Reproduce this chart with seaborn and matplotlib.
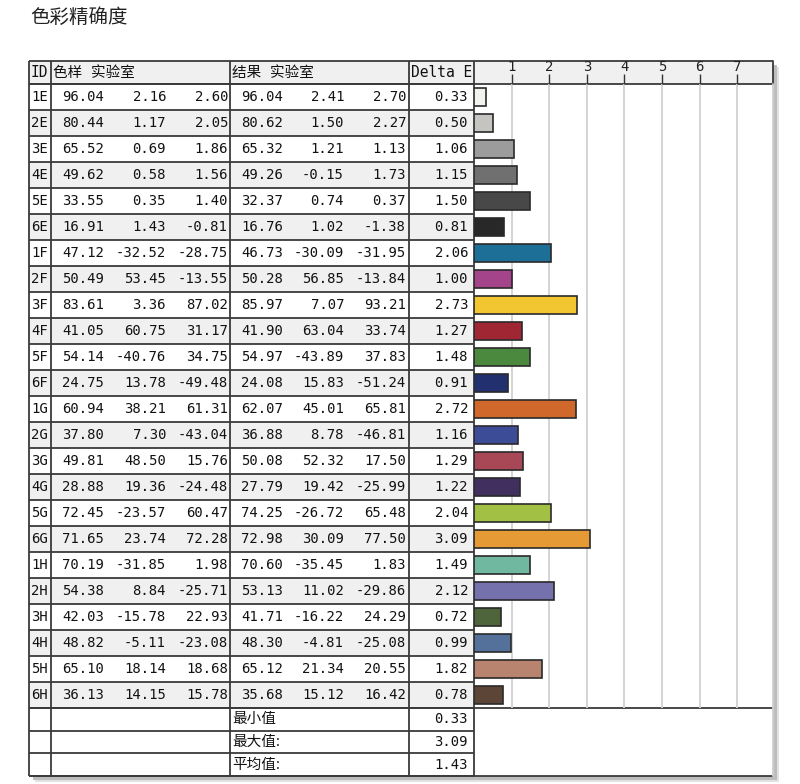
import matplotlib
matplotlib.use('Agg')
import matplotlib.pyplot as plt
import matplotlib.patches as mpatches
import seaborn as sns
import numpy as np

# 数据
ids = ['1E', '2E', '3E', '4E', '5E', '6E', '1F', '2F', '3F', '4F', '5F', '6F',
       '1G', '2G', '3G', '4G', '5G', '6G', '1H', '2H', '3H', '4H', '5H', '6H']
ref_L = [96.04, 80.44, 65.52, 49.62, 33.55, 16.91, 47.12, 50.49, 83.61, 41.05, 54.14, 24.75,
         60.94, 37.80, 49.81, 28.88, 72.45, 71.65, 70.19, 54.38, 42.03, 48.82, 65.10, 36.13]
ref_a = [2.16, 1.17, 0.69, 0.58, 0.35, 1.43, -32.52, 53.45, 3.36, 60.75, -40.76, 13.78,
         38.21, 7.30, 48.50, 19.36, -23.57, 23.74, -31.85, 8.84, -15.78, -5.11, 18.14, 14.15]
ref_b = [2.60, 2.05, 1.86, 1.56, 1.40, -0.81, -28.75, -13.55, 87.02, 31.17, 34.75, -49.48,
         61.31, -43.04, 15.76, -24.48, 60.47, 72.28, 1.98, -25.71, 22.93, -23.08, 18.68, 15.78]
res_L = [96.04, 80.62, 65.32, 49.26, 32.37, 16.76, 46.73, 50.28, 85.97, 41.90, 54.97, 24.08,
         62.07, 36.88, 50.08, 27.79, 74.25, 72.98, 70.60, 53.13, 41.71, 48.30, 65.12, 35.68]
res_a = [2.41, 1.50, 1.21, -0.15, 0.74, 1.02, -30.09, 56.85, 7.07, 63.04, -43.89, 15.83,
         45.01, 8.78, 52.32, 19.42, -26.72, 30.09, -35.45, 11.02, -16.22, -4.81, 21.34, 15.12]
res_b = [2.70, 2.27, 1.13, 1.73, 0.37, -1.38, -31.95, -13.84, 93.21, 33.74, 37.83, -51.24,
         65.81, -46.81, 17.50, -25.99, 65.48, 77.50, 1.83, -29.86, 24.29, -25.08, 20.55, 16.42]
delta_e = [0.33, 0.50, 1.06, 1.15, 1.50, 0.81, 2.06, 1.00, 2.73, 1.27, 1.48, 0.91,
           2.72, 1.16, 1.29, 1.22, 2.04, 3.09, 1.49, 2.12, 0.72, 0.99, 1.82, 0.78]
colors = ['#f4f2ec', '#c6c4c1', '#9c9c9c', '#707070', '#484848', '#282828',
          '#1e6f98', '#a4448a', '#f2c630', '#a02634', '#4b8a3e', '#23306f',
          '#d0682c', '#3d4c96', '#a84756', '#41305f', '#a2c044', '#e59a35',
          '#70b9a0', '#7571ad', '#4e643a', '#54719b', '#b8846f', '#5c4437']
summary_labels = ['最小值', '最大值:', '平均值:']
summary_values = [min(delta_e), max(delta_e), np.mean(delta_e)]

sns.set_theme(style='white')
plt.rcParams['font.family'] = ['DejaVu Sans Mono', 'Noto Sans CJK SC']

fig = plt.figure(figsize=(8, 7.84), dpi=100)
W, H = 800, 784
ax = fig.add_axes([0, 0, 1, 1])
ax.set_xlim(0, W)
ax.set_ylim(H, 0)
ax.axis('off')
ax.set_zorder(0)

# 布局 (像素)
x0, x_id, x_g1, x_g2, x_de, x1 = 29, 51, 230, 409, 474, 773
y_head, y_rows, row_h = 61, 84, 26
y_sum = y_rows + row_h * len(ids)
sum_h = 22.7
y_end = y_sum + sum_h * 3
line_c = '#3a3a3a'

# 标题
ax.text(30, 17, '色彩精确度', fontsize=14, va='center', ha='left', color='#222222',
        family=['Noto Sans CJK SC'])

# 阴影
ax.add_patch(mpatches.Rectangle((x0 + 6, y_head + 6), x1 - x0, y_end - y_head, color='#e2e2e2', lw=0))
ax.add_patch(mpatches.Rectangle((x0 + 4, y_head + 4), x1 - x0, y_end - y_head, color='#bdbdbd', lw=0))
ax.add_patch(mpatches.Rectangle((x0, y_head), x1 - x0, y_end - y_head, color='white', lw=0))

# 表头背景
ax.add_patch(mpatches.Rectangle((x0, y_head), x1 - x0, y_rows - y_head, color='#f0f0f0', lw=0))
# 隔行背景
for i in range(len(ids)):
    if i % 2 == 1:
        ax.add_patch(mpatches.Rectangle((x0, y_rows + i * row_h), x_de - x0, row_h, color='#f0f0f0', lw=0))

# 表头文字
hy = (y_head + y_rows) / 2
ax.text(x0 + 2, hy, 'ID', fontsize=10.5, va='center', color='#111')
ax.text(x_id + 2, hy, '色样 实验室', fontsize=10.5, va='center', color='#111')
ax.text(x_g1 + 2, hy, '结果 实验室', fontsize=10.5, va='center', color='#111')
ax.text(x_g2 + 2, hy, 'Delta E', fontsize=10.5, va='center', color='#111')

# 数据行
col_right = [104, 166, 228, 283, 344, 406, 468]
for i, sid in enumerate(ids):
    cy = y_rows + i * row_h + row_h / 2
    ax.text(x0 + 2, cy, sid, fontsize=10, va='center', ha='left', color='#111')
    vals = [ref_L[i], ref_a[i], ref_b[i], res_L[i], res_a[i], res_b[i], delta_e[i]]
    for xr, v in zip(col_right, vals):
        ax.text(xr, cy, f'{v:.2f}', fontsize=10, va='center', ha='right', color='#111')

# 汇总行
for k, (lab, val) in enumerate(zip(summary_labels, summary_values)):
    cy = y_sum + k * sum_h + sum_h / 2
    ax.text(x_g1 + 2, cy, lab, fontsize=10.5, va='center', ha='left', color='#111',
            family=['Noto Sans CJK SC'])
    ax.text(col_right[-1], cy, f'{val:.2f}', fontsize=10, va='center', ha='right', color='#111')

# 表格线
for i in range(len(ids) + 1):
    y = y_rows + i * row_h
    ax.plot([x0, x_de], [y, y], color=line_c, lw=1.3, solid_capstyle='butt')
for k in range(1, 4):
    y = y_sum + k * sum_h
    ax.plot([x0, x_de], [y, y], color=line_c, lw=1.3, solid_capstyle='butt')
for y in [y_head, y_rows, y_sum, y_end]:
    ax.plot([x0, x1], [y, y], color=line_c, lw=1.3, solid_capstyle='butt')
for x in [x0, x_id, x_g1, x_g2, x_de]:
    ax.plot([x, x], [y_head, y_end], color=line_c, lw=1.3, solid_capstyle='butt')
ax.plot([x1, x1], [y_head, y_rows], color=line_c, lw=1.3)
ax.plot([x1, x1], [y_rows, y_end], color='#cfcfcf', lw=1.3)

# 柱状图
bax = fig.add_axes([x_de / W, 1 - y_sum / H, (x1 - x_de) / W, (y_sum - y_rows) / H])
bax.set_zorder(1)
bax.patch.set_alpha(0)
sns.barplot(x=delta_e, y=ids, hue=ids, palette=colors, legend=False, orient='h', ax=bax,
            width=0.66, edgecolor='#2a2a2a', linewidth=1.2, saturation=1)
bax.set_xlim(0, 7.95)
bax.set_ylim(len(ids) - 0.5, -0.5)
bax.set_xticks(range(1, 8))
bax.set_xticklabels([str(t) for t in range(1, 8)])
bax.xaxis.tick_top()
bax.tick_params(axis='x', direction='out', length=7, width=1, color='#333', pad=0,
                labelsize=10, labelcolor='#222', top=True, bottom=False)
bax.set_yticks([])
bax.set_xlabel('')
bax.set_ylabel('')
bax.grid(axis='x', color='#d4d4d4', lw=1.4)
bax.grid(axis='y', visible=False)
bax.set_axisbelow(True)
for s in bax.spines.values():
    s.set_visible(False)

fig.savefig('out.png', dpi=100)
